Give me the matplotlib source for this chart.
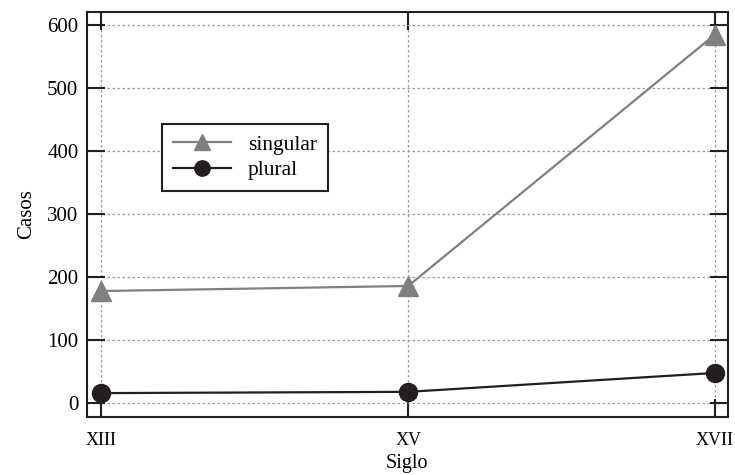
import matplotlib
matplotlib.use("Agg")
import matplotlib.pyplot as plt

# datos
siglos = [13, 15, 17]
etiquetas = ["XIII", "XV", "XVII"]
singular = [178, 186, 585]
plural = [16, 18, 48]

plt.rcParams['font.family'] = ['Liberation Serif', 'DejaVu Serif']

fig = plt.figure(figsize=(7.35, 4.75), dpi=100)
ax = fig.add_subplot(111)
fig.subplots_adjust(left=0.118, right=0.9905, top=0.975, bottom=0.122)

ax.plot(siglos, singular, color='#808080', lw=1.6, marker='^', ms=14,
        markerfacecolor='#808080', markeredgecolor='#808080', label='singular', zorder=3)
ax.plot(siglos, plural, color='#231f20', lw=1.6, marker='o', ms=13,
        markerfacecolor='#231f20', markeredgecolor='#231f20', label='plural', zorder=3)

ax.set_xlim(12.905, 17.085)
ax.set_ylim(-22, 621)
ax.set_xticks(siglos)
ax.set_xticklabels(etiquetas)
ax.set_yticks([0, 100, 200, 300, 400, 500, 600])

ax.tick_params(direction='in', length=13, width=1.5, top=True, right=True,
               color='#231f20')
ax.tick_params(axis='x', pad=11, labelsize=13)
ax.tick_params(axis='y', pad=6, labelsize=15)
for s in ax.spines.values():
    s.set_linewidth(1.5)
    s.set_color('#231f20')

ax.grid(True, linestyle=(0, (2, 2)), color='#9a9a9a', lw=0.9)
ax.set_axisbelow(True)

ax.set_xlabel('Siglo', fontsize=14.5, labelpad=3.5)
ax.set_ylabel('Casos', fontsize=15, labelpad=8)

leg = ax.legend(loc='upper left', bbox_to_anchor=(0.117, 0.723), fontsize=15.5,
                handlelength=2.7, fancybox=False, framealpha=1, borderpad=0.5,
                labelspacing=0.25, handletextpad=0.8, markerscale=0.85,
                borderaxespad=0)
leg.get_frame().set_edgecolor('#231f20')
leg.get_frame().set_linewidth(1.5)

fig.savefig('out.png', dpi=100)
